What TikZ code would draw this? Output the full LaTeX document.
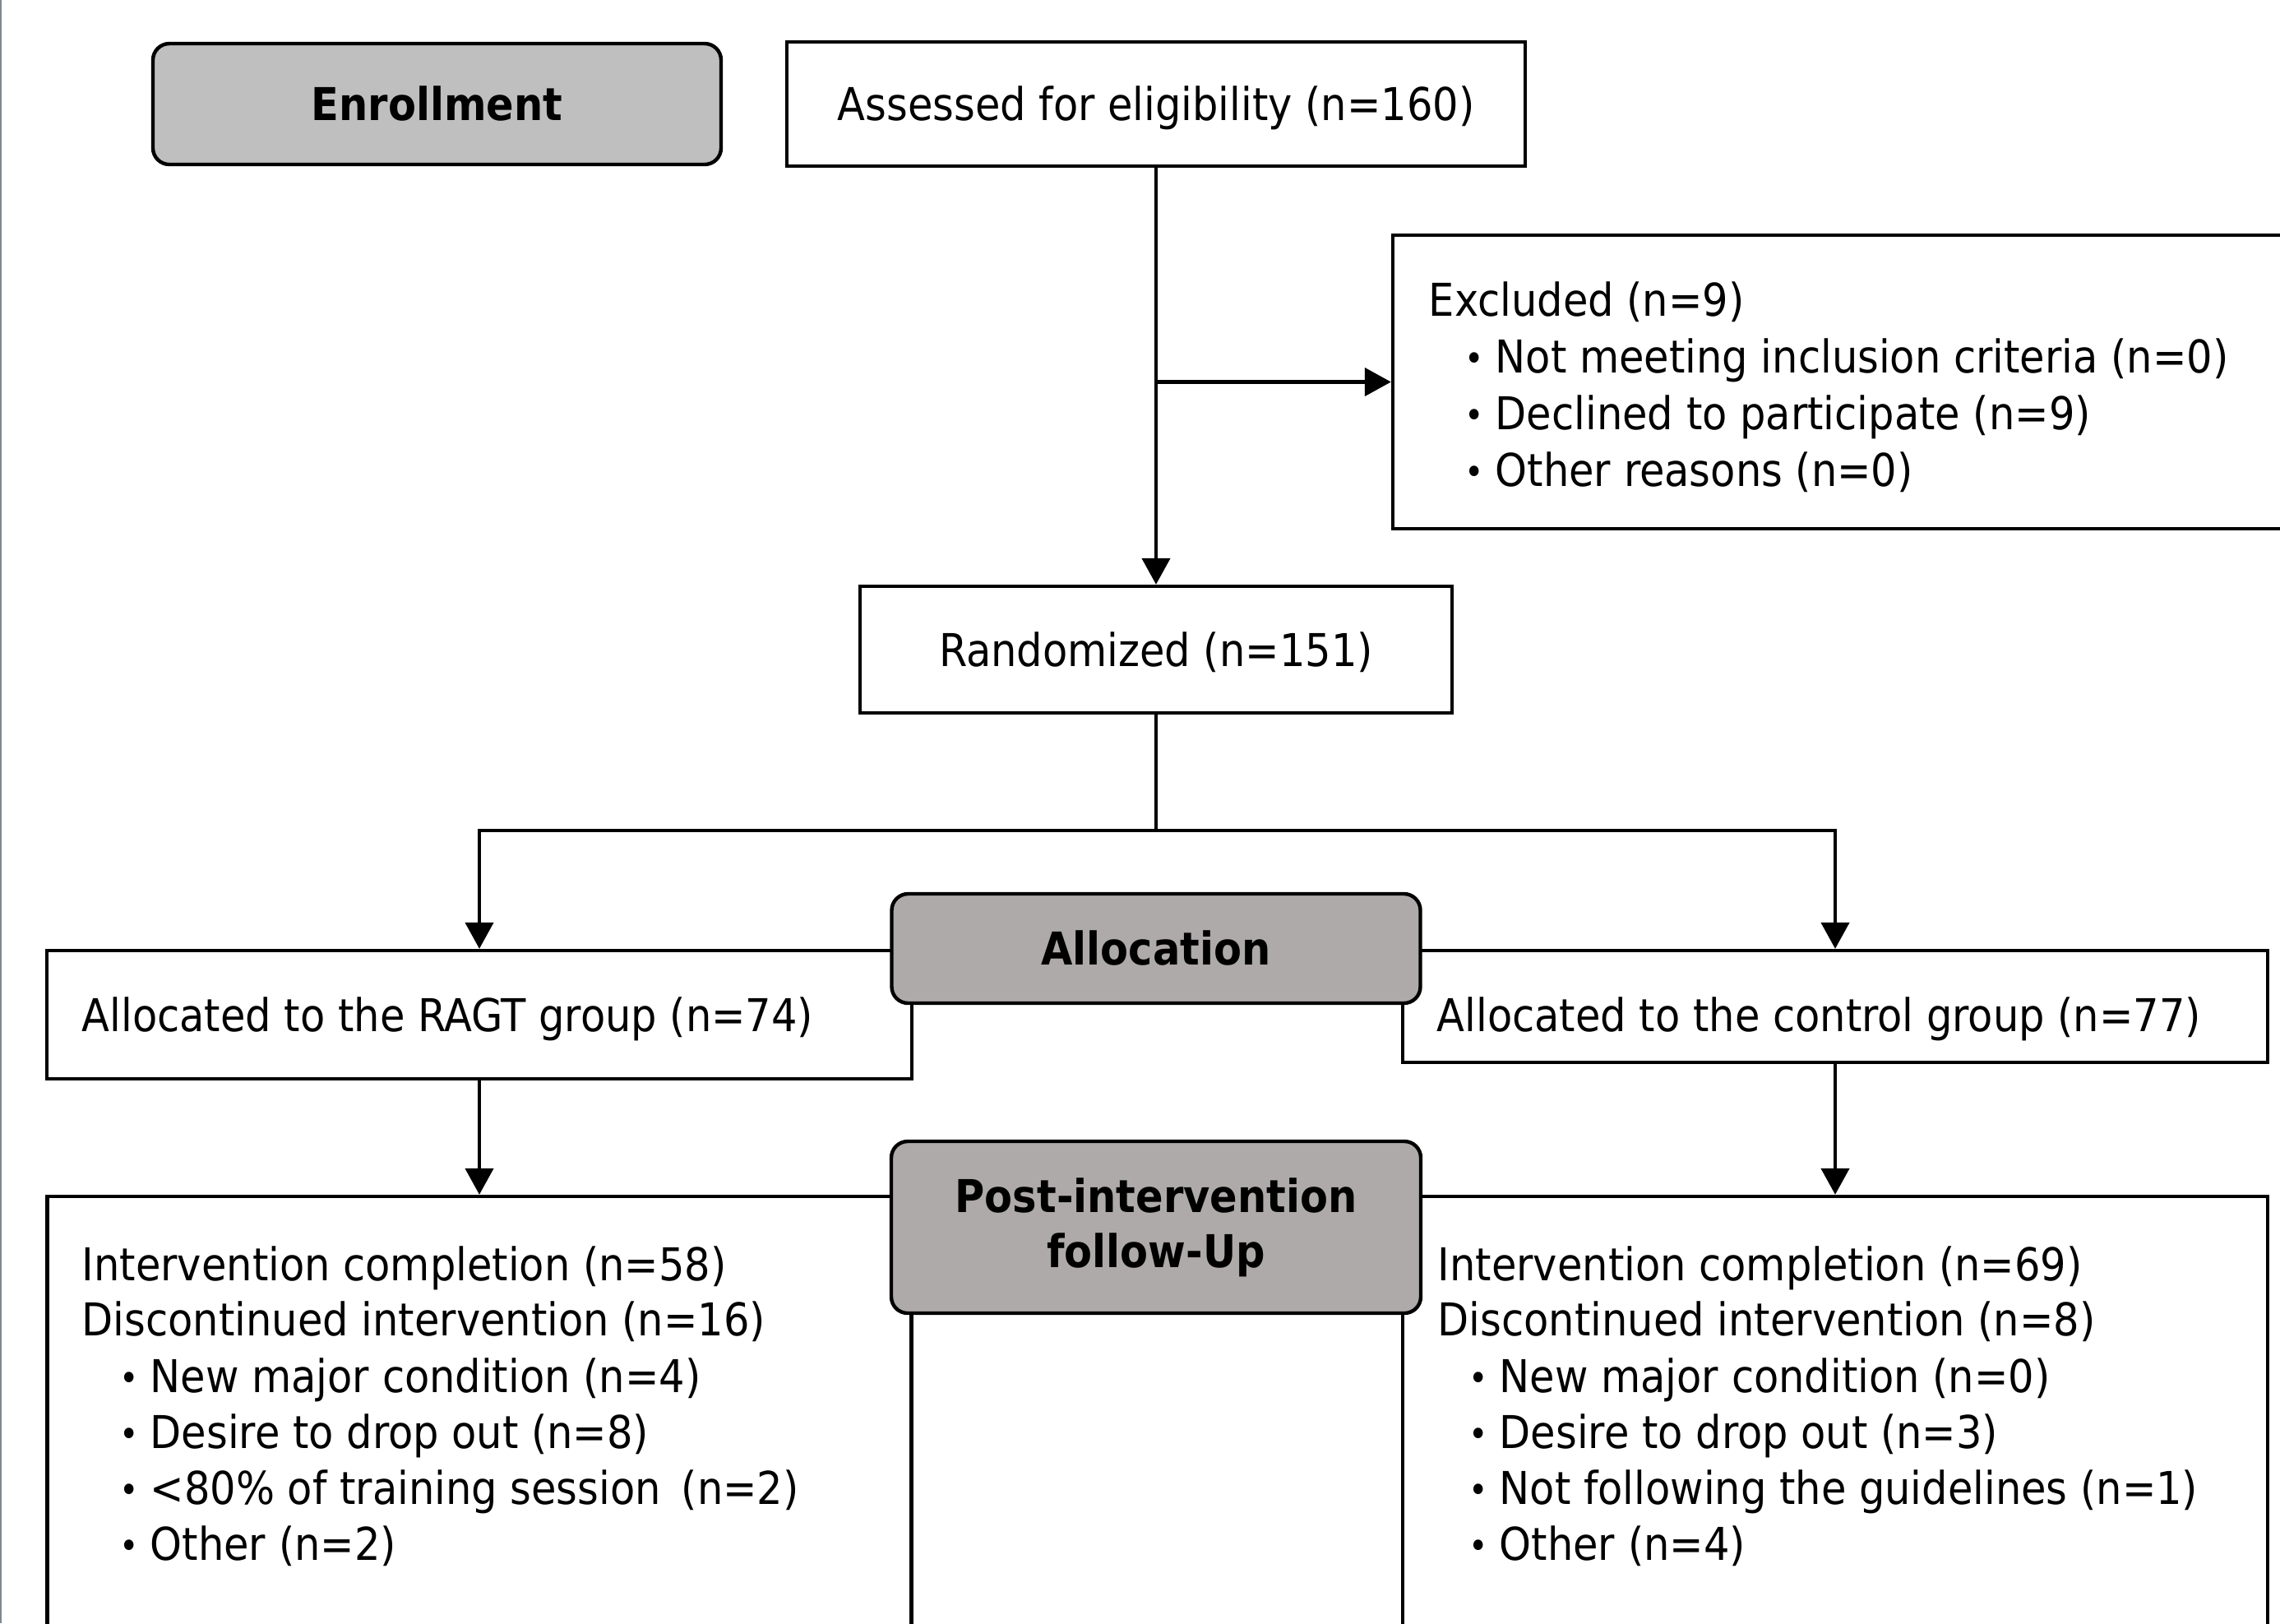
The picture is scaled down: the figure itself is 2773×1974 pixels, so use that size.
\documentclass[tikz,border=0pt]{standalone}
\usepackage{fontspec}
\setmainfont{DejaVu Sans Condensed}
\usetikzlibrary{arrows.meta}
\newcommand{\dfont}{\fontsize{13.75pt}{16.75pt}\selectfont}
\newcommand{\bul}{\llap{\raisebox{0.4pt}{\fontsize{11pt}{11pt}\selectfont •}\hspace{3.6pt}}}
\definecolor{enrgray}{RGB}{191,191,191}
\definecolor{secgray}{RGB}{174,170,169}
\definecolor{edgegray}{RGB}{125,138,144}
\tikzset{
  box/.style={draw, line width=1.1pt, fill=white, inner sep=0pt, font=\dfont,
    text height=10pt, text depth=0pt},
  gbox/.style={draw, line width=1.1pt, rounded corners=5pt, inner sep=0pt,
    font=\dfont\bfseries, align=center},
  txt/.style={inner sep=0pt, anchor=base west, font=\dfont},
  conn/.style={line width=1.1pt},
  arr/.style={conn, -{Triangle[length=8pt,width=8.5pt]}},
}
\begin{document}
\begin{tikzpicture}[x=0.25pt, y=-0.25pt]
\useasboundingbox (0,0) rectangle (2773,1974);
\clip (0,0) rectangle (2773,1974);
\draw[edgegray, line width=0.6pt] (1,0) -- (1,1974);

% white boxes
\node[box, minimum width=224.5pt, minimum height=37.75pt] (assess) at (1406,126.5) {Assessed for eligibility (n=160)};
\node[box, minimum width=291.5pt, minimum height=89.25pt] (excl) at (2277,464.5) {};
\node[box, minimum width=180pt, minimum height=38.5pt] (rand) at (1406,790) {Randomized (n=151)};
\node[box, minimum width=263pt, minimum height=39pt] (allocL) at (583,1234) {};
\node[box, minimum width=263pt, minimum height=34pt] (allocR) at (2232,1224) {};
\node[box, minimum width=262.75pt, minimum height=161.25pt] (follL) at (583,1777.5) {};
\node[box, minimum width=263pt, minimum height=161.25pt] (follR) at (2232,1777.5) {};

% gray section boxes
\node[gbox, fill=enrgray, minimum width=172.75pt, minimum height=36.75pt, text height=10pt, text depth=0pt] (enroll) at (531.5,126.5) {Enrollment};
\node[gbox, fill=secgray, minimum width=160.75pt, minimum height=33.25pt, text height=10pt, text depth=0pt] (allocation) at (1406,1153.5) {Allocation};
\node[gbox, fill=secgray, minimum width=161pt, minimum height=52.25pt] (post) at (1406,1492.5) {Post-intervention\\follow-Up};

% texts
\node[txt] (ex0) at (1737,384) {Excluded (n=9)};
\node[txt] (ex1) at (1818,453) {\bul Not meeting inclusion criteria (n=0)};
\node[txt] (ex2) at (1818,522) {\bul Declined to participate (n=9)};
\node[txt] (ex3) at (1818,591) {\bul Other reasons (n=0)};

\node[txt] (alL) at (99,1254) {Allocated to the RAGT group (n=74)};
\node[txt] (alR) at (1747,1254) {Allocated to the control group (n=77)};

\node[txt] (fl0) at (99,1557) {Intervention completion (n=58)};
\node[txt] (fl1) at (99,1624) {Discontinued intervention (n=16)};
\node[txt] (fl2) at (182,1693) {\bul New major condition (n=4)};
\node[txt] (fl3) at (182,1761) {\bul Desire to drop out (n=8)};
\node[txt] (fl4) at (182,1829) {\bul <80\% of training session\, (n=2)};
\node[txt] (fl5) at (182,1897) {\bul Other (n=2)};

\node[txt] (fr0) at (1748,1557) {Intervention completion (n=69)};
\node[txt] (fr1) at (1748,1624) {Discontinued intervention (n=8)};
\node[txt] (fr2) at (1823,1693) {\bul New major condition (n=0)};
\node[txt] (fr3) at (1823,1761) {\bul Desire to drop out (n=3)};
\node[txt] (fr4) at (1823,1829) {\bul Not following the guidelines (n=1)};
\node[txt] (fr5) at (1823,1897) {\bul Other (n=4)};

% connectors
\draw[arr] (assess.south) -- (rand.north);
\draw[arr] (assess.south |- excl.west) -- (excl.west);
\coordinate (split) at (1406,1010);
\draw[conn] (rand.south) -- (split);
\draw[arr] (split) -| (allocL.north);
\draw[arr] (split) -| (allocR.north);
\draw[arr] (allocL.south) -- (follL.north);
\draw[arr] (allocR.south) -- (follR.north);
\end{tikzpicture}
\end{document}
